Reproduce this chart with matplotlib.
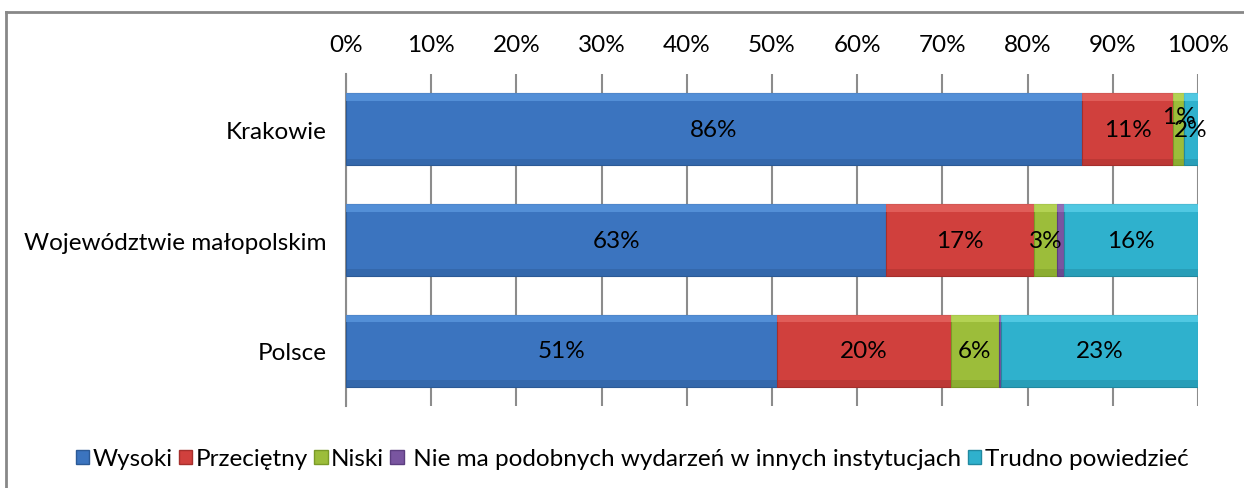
import numpy as np
import matplotlib.pyplot as plt
from matplotlib.lines import Line2D
from matplotlib.patches import Patch

plt.rcParams['font.family'] = ['Lato', 'DejaVu Sans']

# data (percent of answers)
categories = ["Krakowie", "Województwie małopolskim", "Polsce"]
series = ["Wysoki", "Przeciętny", "Niski",
          " Nie ma podobnych wydarzeń w innych instytucjach", "Trudno powiedzieć"]
wysoki = [86.4, 63.4, 50.6]
przecietny = [10.7, 17.4, 20.4]
niski = [1.2, 2.6, 5.6]
nie_ma = [0.0, 0.9, 0.3]
trudno = [1.7, 15.7, 23.1]
show_labels = [True, True, True, False, True]

colors = ["#3B74BF", "#D0403D", "#9CBD3A", "#7955A0", "#2FB1CD"]
light = ["#5E9BE2", "#E86A66", "#BEDB5E", "#9C7BC2", "#5FD3EC"]
dark = ["#2C5A96", "#A52F2C", "#7A9A27", "#5C3E80", "#2189A0"]

values = [wysoki, przecietny, niski, nie_ma, trudno]
fs = 17.5

fig = plt.figure(figsize=(12.44, 4.89), dpi=100)
ax = fig.add_axes([346 / 1244, 1 - 407 / 489, 852 / 1244, 332 / 489])

y = np.arange(len(categories))
h = 0.65
left = np.zeros(len(categories))
for i, vals in enumerate(values):
    vals = np.array(vals)
    ax.barh(y, vals, left=left, height=h, color=colors[i], edgecolor=dark[i],
            linewidth=0.8, zorder=3)
    # soft bevel: light strip at top, darker strip at bottom
    ax.barh(y - h / 2 + 0.035, vals, left=left, height=0.07, color=light[i],
            linewidth=0, zorder=4, alpha=0.7)
    ax.barh(y + h / 2 - 0.03, vals, left=left, height=0.06, color=dark[i],
            linewidth=0, zorder=4, alpha=0.45)
    if show_labels[i]:
        for j, v in enumerate(vals):
            if round(v) >= 1:
                dy = -0.12 if (i == 2 and j == 0) else 0.0
                ax.text(left[j] + v / 2, y[j] + dy, "%d%%" % round(v),
                        ha="center", va="center", fontsize=fs, color="black",
                        zorder=5)
    left += vals

ax.set_xlim(0, 100)
ax.set_ylim(2.5, -0.5)
ax.set_yticks(y)
ax.set_yticklabels(categories, fontsize=fs)
ax.set_xticks(np.arange(0, 101, 10))
ax.set_xticklabels(["%d%%" % t for t in range(0, 101, 10)], fontsize=fs)
ax.xaxis.tick_top()
ax.tick_params(axis="x", length=0, pad=14)
ax.tick_params(axis="y", length=0, pad=14)
ax.grid(axis="x", color="#8C8C8C", linewidth=1.5, zorder=0)
for s in ["top", "right", "bottom"]:
    ax.spines[s].set_visible(False)
ax.spines["left"].set_color("#8C8C8C")
ax.spines["left"].set_linewidth(1.5)

handles = [Patch(facecolor=colors[i], edgecolor=dark[i], label=series[i])
           for i in range(len(series))]
fig.legend(handles=handles, loc="center", bbox_to_anchor=(0.508, 1 - 460 / 489),
           ncol=5, frameon=False, fontsize=fs, handlelength=0.55, handleheight=0.55,
           handletextpad=0.15, columnspacing=0.25)

# chart area frame (left and top edges visible)
fig.add_artist(Line2D([6 / 1244, 6 / 1244], [0, 1 - 13 / 489], color="#888888",
                      linewidth=2, transform=fig.transFigure))
fig.add_artist(Line2D([6 / 1244, 1], [1 - 13 / 489, 1 - 13 / 489], color="#888888",
                      linewidth=2, transform=fig.transFigure))

fig.savefig("out.png", dpi=100)
